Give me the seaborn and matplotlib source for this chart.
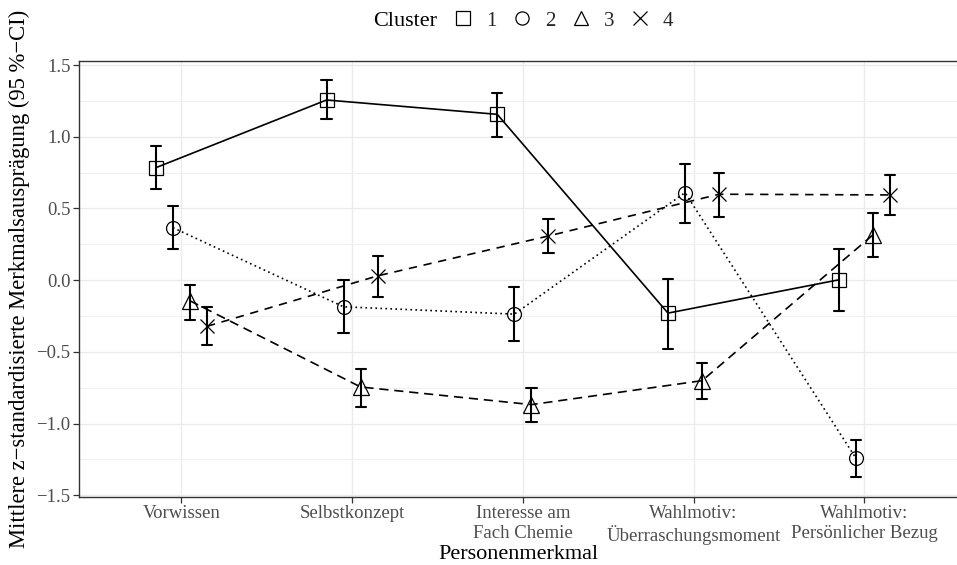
import numpy as np
import pandas as pd
import matplotlib
matplotlib.use("Agg")
import matplotlib.pyplot as plt
from matplotlib.lines import Line2D
from matplotlib.ticker import MultipleLocator
import seaborn as sns

categories = ["Vorwissen", "Selbstkonzept", "Interesse am\nFach Chemie",
              "Wahlmotiv:\nÜberraschungsmoment", "Wahlmotiv:\nPersönlicher Bezug"]
clusters = ["1", "2", "3", "4"]

mean_c1 = [0.784, 1.256, 1.156, -0.230, 0.002]
low_c1 = [0.634, 1.121, 1.000, -0.478, -0.214]
high_c1 = [0.935, 1.395, 1.306, 0.011, 0.218]

mean_c2 = [0.366, -0.186, -0.237, 0.610, -1.240]
low_c2 = [0.219, -0.369, -0.423, 0.401, -1.372]
high_c2 = [0.517, 0.002, -0.051, 0.810, -1.112]

mean_c3 = [-0.144, -0.745, -0.868, -0.701, 0.315]
low_c3 = [-0.278, -0.884, -0.989, -0.829, 0.164]
high_c3 = [-0.033, -0.620, -0.752, -0.578, 0.467]

mean_c4 = [-0.322, 0.030, 0.308, 0.599, 0.594]
low_c4 = [-0.455, -0.116, 0.188, 0.443, 0.455]
high_c4 = [-0.186, 0.171, 0.429, 0.745, 0.735]

means = [mean_c1, mean_c2, mean_c3, mean_c4]
lows = [low_c1, low_c2, low_c3, low_c4]
highs = [high_c1, high_c2, high_c3, high_c4]

# long table: each cell holds (lower, mean, upper); median = mean, full range = CI
rows = []
for cl, m, lo, hi in zip(clusters, means, lows, highs):
    for cat, mv, lv, hv in zip(categories, m, lo, hi):
        for v in (lv, mv, hv):
            rows.append({"Personenmerkmal": cat, "Cluster": cl, "Wert": v})
df = pd.DataFrame(rows)

sns.set_theme(style="white")
plt.rcParams["font.family"] = ["Liberation Serif", "DejaVu Serif"]

fig = plt.figure(figsize=(9.57, 5.65), dpi=100)
ax = fig.add_axes([79 / 957, 1 - 496.7 / 565, 1 - 79 / 957, (496.7 - 60.7) / 565])

markers = ["s", "o", "^", "x"]
linestyles = ["-", (0, (1, 2.0)), (0, (5.5, 3.5)), (0, (5, 4))]

sns.pointplot(data=df, x="Personenmerkmal", y="Wert", hue="Cluster",
              order=categories, hue_order=clusters,
              estimator="median", errorbar=("pi", 100),
              palette=["black"] * 4, markers=markers, linestyles=linestyles,
              dodge=0.3, capsize=0.06, legend=False,
              err_kws={"linewidth": 1.5},
              linewidth=1.2, markersize=10, markeredgewidth=0.9,
              markerfacecolor="none", ax=ax)

for ln in ax.lines:
    if ln.get_marker() == "^":
        ln.set_markersize(11.5)

ax.set_xlim(-0.6, 4.543)
ax.set_ylim(-1.51, 1.53)
ax.yaxis.set_major_locator(MultipleLocator(0.5))
ax.yaxis.set_minor_locator(MultipleLocator(0.25))
ax.set_axisbelow(True)
ax.grid(True, which="major", axis="both", color="#EBEBEB", linewidth=1.0)
ax.grid(True, which="minor", axis="y", color="#F0F0F0", linewidth=0.8)
ax.xaxis.grid(True, which="major", color="#EBEBEB", linewidth=1.0)

for s in ["left", "bottom", "top"]:
    ax.spines[s].set_visible(True)
    ax.spines[s].set_color("#333333")
    ax.spines[s].set_linewidth(1.0)
ax.spines["right"].set_visible(False)

ax.tick_params(axis="both", which="major", direction="out", length=4, width=0.9,
               color="#333333", labelcolor="#4D4D4D", labelsize=13.5, pad=2,
               left=True, bottom=True)
ax.tick_params(axis="y", which="minor", length=0, left=False)

ax.set_xlabel("Personenmerkmal", fontsize=16, color="black", labelpad=0)
ax.set_ylabel("Mittlere z−standardisierte Merkmalsausprägung (95 %−CI)",
              fontsize=16.3, color="black")
ax.yaxis.set_label_coords(-0.056, 0.5)

handles = [Line2D([], [], color="black", marker=mk, linestyle="none",
                  markersize=9.5, markeredgewidth=0.9, markerfacecolor="none")
           for mk in markers]
fig.text(405.5 / 957, 1 - 21 / 565, "Cluster", ha="center", va="center",
         fontsize=16, color="black")
fig.legend(handles, clusters, loc="center", bbox_to_anchor=(564 / 957, 1 - 21 / 565),
           ncol=4, frameon=False, fontsize=15, handlelength=0.8,
           handletextpad=0.7, columnspacing=0.83, borderpad=0)

fig.savefig("out.png", dpi=100)
